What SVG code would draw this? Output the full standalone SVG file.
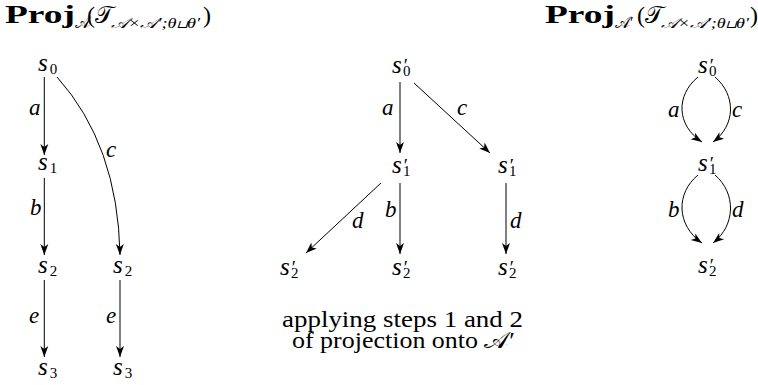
<svg xmlns="http://www.w3.org/2000/svg" width="758" height="385" viewBox="0 0 758 385" font-family="Times New Roman, serif">
<defs>
<marker id="ah" markerUnits="userSpaceOnUse" markerWidth="14" markerHeight="12" refX="11" refY="5" orient="auto" viewBox="0 0 14 10">
<path d="M0,1 L11,5 L0,9 L3,5 z" fill="#000"/>
</marker>
</defs>
<g id="titles">
<text font-weight="bold" font-size="25" x="5" y="23" textLength="70" lengthAdjust="spacingAndGlyphs">Proj</text>
<text font-size="16" x="75" y="28">𝒜</text>
<text font-size="24" x="87" y="23">(</text>
<text font-size="24" x="95" y="23">𝒯</text>
<text font-size="14" font-style="italic" x="111" y="28" textLength="89" lengthAdjust="spacingAndGlyphs">𝒜×𝒜′;θ⊔θ′</text>
<text font-size="24" x="203" y="23">)</text>
<text font-weight="bold" font-size="25" x="545" y="23" textLength="70" lengthAdjust="spacingAndGlyphs">Proj</text>
<text font-size="16" x="615" y="28">𝒜′</text>
<text font-size="24" x="637" y="23">(</text>
<text font-size="24" x="645" y="23">𝒯</text>
<text font-size="14" font-style="italic" x="661" y="28" textLength="88" lengthAdjust="spacingAndGlyphs">𝒜×𝒜′;θ⊔θ′</text>
<text font-size="24" x="750" y="23">)</text>
</g>
<g id="connectors" fill="none" stroke="#000" stroke-width="1">
<line x1="44.3" y1="77" x2="44.3" y2="155" marker-end="url(#ah)"/>
<line x1="44.3" y1="178" x2="44.3" y2="255" marker-end="url(#ah)"/>
<line x1="44.3" y1="280" x2="44.3" y2="357" marker-end="url(#ah)"/>
<path d="M57,77 Q118,145 120,255" marker-end="url(#ah)"/>
<line x1="120" y1="280" x2="120" y2="357" marker-end="url(#ah)"/>
<line x1="400" y1="82" x2="400" y2="153" marker-end="url(#ah)"/>
<line x1="414" y1="83" x2="490" y2="153" marker-end="url(#ah)"/>
<line x1="381" y1="183" x2="306" y2="253" marker-end="url(#ah)"/>
<line x1="400" y1="183" x2="400" y2="254" marker-end="url(#ah)"/>
<line x1="506" y1="183" x2="506" y2="254" marker-end="url(#ah)"/>
<path d="M698,77 C676,95 676,125 702,142" marker-end="url(#ah)"/>
<path d="M715,77 C736,95 736,125 713,142" marker-end="url(#ah)"/>
<path d="M698,175 C676,193 676,225 702,243" marker-end="url(#ah)"/>
<path d="M715,175 C736,193 736,225 713,243" marker-end="url(#ah)"/>
</g>
<g id="edge-labels" font-size="23" font-style="italic" fill="#000">
<text x="29" y="115">a</text>
<text x="30" y="215">b</text>
<text x="29" y="323">e</text>
<text x="106" y="157">c</text>
<text x="106" y="323">e</text>
<text x="382" y="115">a</text>
<text x="457" y="115">c</text>
<text x="385" y="217">b</text>
<text x="352" y="228">d</text>
<text x="510" y="228">d</text>
<text x="668" y="117">a</text>
<text x="732" y="117">c</text>
<text x="668" y="217">b</text>
<text x="732" y="217">d</text>
</g>
<g id="nodes" font-size="25" font-style="italic">
<g id="L_s0"><text x="38" y="71">s<tspan font-size="15" font-style="normal" dx="2" dy="3">0</tspan></text></g>
<g id="L_s1"><text x="38" y="170">s<tspan font-size="15" font-style="normal" dx="2" dy="3">1</tspan></text></g>
<g id="L_s2"><text x="38" y="273">s<tspan font-size="15" font-style="normal" dx="2" dy="3">2</tspan></text></g>
<g id="L_s3"><text x="38" y="375">s<tspan font-size="15" font-style="normal" dx="2" dy="3">3</tspan></text></g>
<g id="L_s2b"><text x="113" y="273">s<tspan font-size="15" font-style="normal" dx="2" dy="3">2</tspan></text></g>
<g id="L_s3b"><text x="113" y="375">s<tspan font-size="15" font-style="normal" dx="2" dy="3">3</tspan></text></g>
<g id="M_s0"><text x="392" y="73">s<tspan font-size="19" font-style="normal" dx="2" dy="-1">′</tspan><tspan font-size="15" font-style="normal" dx="-5" dy="4">0</tspan></text></g>
<g id="M_s1a"><text x="392" y="173">s<tspan font-size="19" font-style="normal" dx="2" dy="-1">′</tspan><tspan font-size="15" font-style="normal" dx="-5" dy="4">1</tspan></text></g>
<g id="M_s1b"><text x="498" y="173">s<tspan font-size="19" font-style="normal" dx="2" dy="-1">′</tspan><tspan font-size="15" font-style="normal" dx="-5" dy="4">1</tspan></text></g>
<g id="M_s2a"><text x="280" y="275">s<tspan font-size="19" font-style="normal" dx="2" dy="-1">′</tspan><tspan font-size="15" font-style="normal" dx="-5" dy="4">2</tspan></text></g>
<g id="M_s2b"><text x="392" y="275">s<tspan font-size="19" font-style="normal" dx="2" dy="-1">′</tspan><tspan font-size="15" font-style="normal" dx="-5" dy="4">2</tspan></text></g>
<g id="M_s2c"><text x="498" y="275">s<tspan font-size="19" font-style="normal" dx="2" dy="-1">′</tspan><tspan font-size="15" font-style="normal" dx="-5" dy="4">2</tspan></text></g>
<g id="R_s0"><text x="698" y="73">s<tspan font-size="19" font-style="normal" dx="2" dy="-1">′</tspan><tspan font-size="15" font-style="normal" dx="-5" dy="4">0</tspan></text></g>
<g id="R_s1"><text x="698" y="171">s<tspan font-size="19" font-style="normal" dx="2" dy="-1">′</tspan><tspan font-size="15" font-style="normal" dx="-5" dy="4">1</tspan></text></g>
<g id="R_s2"><text x="698" y="273">s<tspan font-size="19" font-style="normal" dx="2" dy="-1">′</tspan><tspan font-size="15" font-style="normal" dx="-5" dy="4">2</tspan></text></g>
</g>
<g id="caption" font-size="23">
<text x="282" y="327" textLength="241" lengthAdjust="spacingAndGlyphs">applying steps 1 and 2</text>
<text x="292" y="348" textLength="223" lengthAdjust="spacingAndGlyphs">of projection onto 𝒜′</text>
</g>
</svg>
